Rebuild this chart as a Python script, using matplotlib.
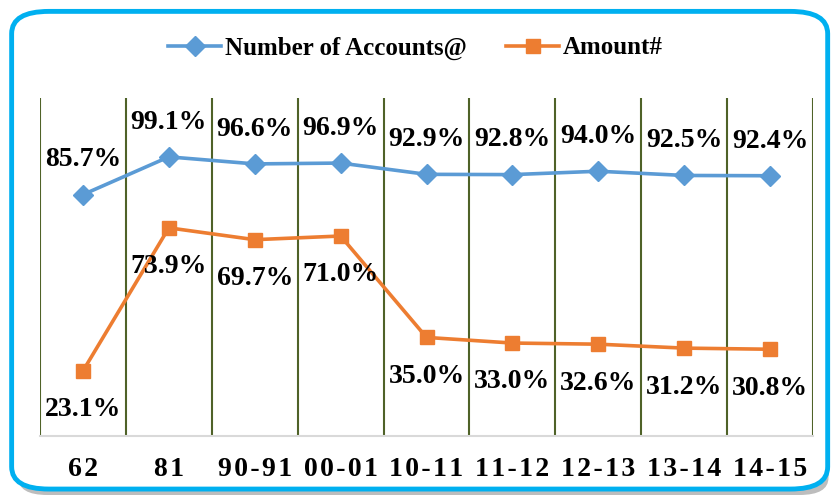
import numpy as np
import matplotlib
matplotlib.use("Agg")
import matplotlib.pyplot as plt
from matplotlib.patches import FancyBboxPatch

periods = ['62', '81', '90-91', '00-01', '10-11', '11-12', '12-13', '13-14', '14-15']
accounts = [85.7, 99.1, 96.6, 96.9, 92.9, 92.8, 94.0, 92.5, 92.4]
amount = [23.1, 73.9, 69.7, 71.0, 35.0, 33.0, 32.6, 31.2, 30.8]

plt.rcParams['font.family'] = ['Liberation Serif', 'DejaVu Serif']

fig = plt.figure(figsize=(8.31, 4.95), dpi=100)

# frame with shadow
shadow = FancyBboxPatch((0.022, 0.0), 0.975, 0.955, boxstyle="round,pad=0,rounding_size=0.035",
                        transform=fig.transFigure, facecolor='#bdbdbd', edgecolor='none', zorder=-2)
frame = FancyBboxPatch((0.014, 0.012), 0.982, 0.965, boxstyle="round,pad=0,rounding_size=0.045",
                       transform=fig.transFigure, facecolor='white', edgecolor='#00b0f0', linewidth=3.5, zorder=-1)
fig.patches.extend([shadow, frame])

ax = fig.add_axes([40 / 831, 1 - 436 / 495, 773 / 831, 338 / 495])
ax.set_facecolor('none')
x = np.arange(len(periods))

ax.plot(x, accounts, color='#5b9bd5', lw=2.6, marker='D', ms=10, label='Number of Accounts@', zorder=3)
ax.plot(x, amount, color='#ed7d31', lw=2.6, marker='s', ms=10, label='Amount#', zorder=3)

for xi, v in zip(x, accounts):
    ax.annotate(f'{v:.1f}%', (xi, v), xytext=(0, 25), textcoords='offset points',
                ha='center', va='center', fontsize=20, fontweight='bold')
for xi, v in zip(x, amount):
    ax.annotate(f'{v:.1f}%', (xi, v), xytext=(0, -28), textcoords='offset points',
                ha='center', va='center', fontsize=20, fontweight='bold')

ax.set_xlim(-0.5, len(periods) - 0.5)
ax.set_ylim(0, 120)
for b in np.arange(-0.5, len(periods), 1):
    ax.axvline(b, color='#4f6228', lw=1.5, zorder=1)

for s in ['top', 'left', 'right']:
    ax.spines[s].set_visible(False)
ax.spines['bottom'].set_color('#d9d9d9')
ax.spines['bottom'].set_linewidth(1.5)
ax.set_yticks([])
ax.set_xticks(x)
ax.set_xticklabels(['\u200a'.join(p) for p in periods], fontsize=20, fontweight='bold')
ax.tick_params(axis='x', length=0, pad=15)

fig.legend(loc='center', bbox_to_anchor=(0.5, 1 - 48 / 495), ncol=2, frameon=False,
           prop={'weight': 'bold', 'size': 18}, handlelength=2.1, columnspacing=1.6, handletextpad=0.15)

fig.savefig('out.png', dpi=100)
